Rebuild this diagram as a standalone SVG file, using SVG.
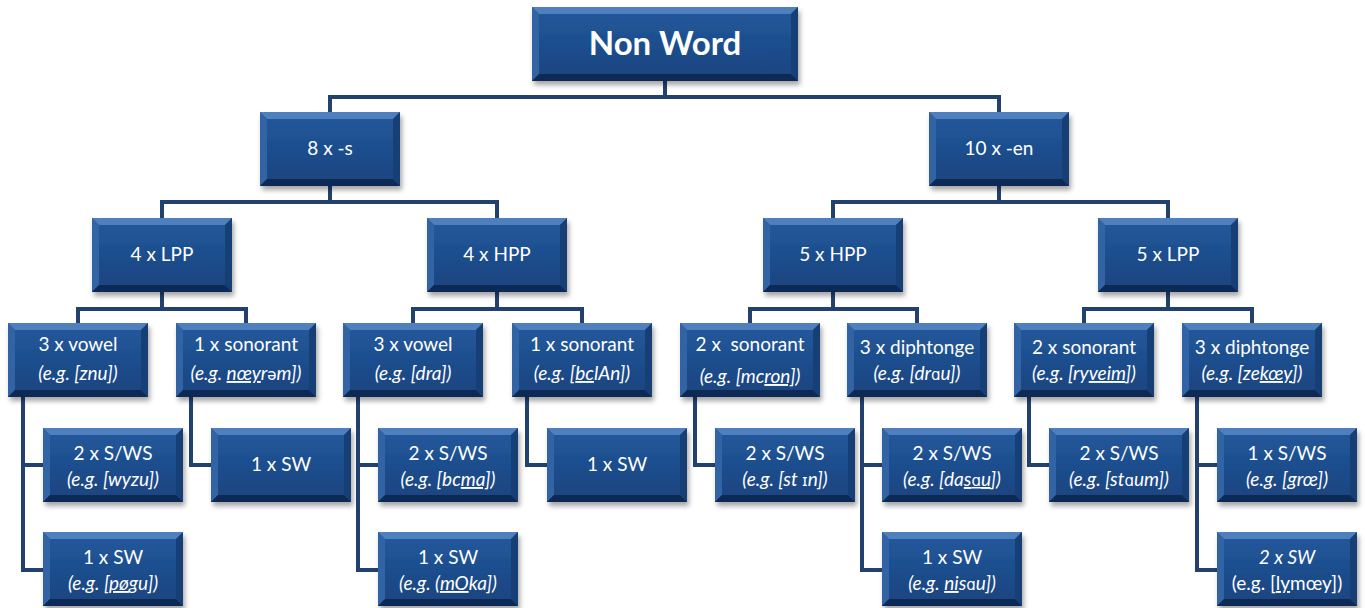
<svg xmlns="http://www.w3.org/2000/svg" xmlns:xlink="http://www.w3.org/1999/xlink" width="1365" height="608" viewBox="0 0 1365 608">
<style>
.t{font-family:Lato,"Liberation Sans",sans-serif;font-size:19px;fill:#fff;text-anchor:middle}
.i{font-style:italic}
.r{font-size:33px;font-weight:bold}
.u{text-decoration:underline}
.ip{font-family:"DejaVu Sans",sans-serif;font-style:normal;font-size:15px}
.c{fill:none;stroke:#22416f;stroke-width:4;stroke-linejoin:miter}
</style>
<defs>
<filter id="sh" x="-10%" y="-10%" width="125%" height="135%"><feDropShadow dx="2" dy="4" stdDeviation="2.5" flood-color="#000" flood-opacity="0.35"/></filter>
<linearGradient id="gf" x1="0" y1="0" x2="0" y2="1"><stop offset="0" stop-color="#285da0"/><stop offset="1" stop-color="#19447c"/></linearGradient>
<linearGradient id="gi" x1="0" y1="0" x2="0" y2="1"><stop offset="0" stop-color="#22579a"/><stop offset="1" stop-color="#1a4581"/></linearGradient>
<g id="bx">
<rect width="140" height="74" fill="url(#gf)"/>
<path d="M0 0H140L133 7H7Z" fill="#5080bd"/>
<path d="M0 0L7 7V67L0 74Z" fill="#3063a4"/>
<path d="M140 0L133 7V67L140 74Z" fill="#173f74"/>
<path d="M0 74L7 67H133L140 74Z" fill="#0f2c57"/>
<rect x="7" y="7" width="126" height="60" fill="url(#gi)"/>
</g>
</defs>
<rect width="1365" height="608" fill="#fff"/>
<g id="connectors" class="c">
<path d="M665 81V97M330 112V97H999V112"/>
<path d="M330 186V202M162 218V202H497V218"/>
<path d="M999 186V202M833 218V202H1168V218"/>
<path d="M162 292V309M78 323V309H246V323"/>
<path d="M497 292V309M413 323V309H582V323"/>
<path d="M833 292V309M750 323V309H917V323"/>
<path d="M1168 292V309M1084 323V309H1252V323"/>
<path d="M23 397V570H43M23 465H43"/>
<path d="M191 397V465H211"/>
<path d="M358 397V570H378M358 465H378"/>
<path d="M527 397V465H547"/>
<path d="M695 397V465H715"/>
<path d="M862 397V570H882M862 465H882"/>
<path d="M1029 397V465H1049"/>
<path d="M1197 397V570H1217M1197 465H1217"/>
</g>
<g id="root" transform="translate(532,7)">
<g filter="url(#sh)">
<rect width="266" height="74" fill="url(#gf)"/>
<path d="M0 0H266L259 7H7Z" fill="#5080bd"/>
<path d="M0 0L7 7V67L0 74Z" fill="#3063a4"/>
<path d="M266 0L259 7V67L266 74Z" fill="#173f74"/>
<path d="M0 74L7 67H259L266 74Z" fill="#0f2c57"/>
<rect x="7" y="7" width="252" height="60" fill="url(#gi)"/>
</g>
<text class="t r" x="133" y="48">Non Word</text>
</g>
<g id="n8s" transform="translate(260,112)"><use href="#bx" filter="url(#sh)"/><text class="t" x="70" y="43">8 x -s</text></g>
<g id="n10en" transform="translate(929,112)"><use href="#bx" filter="url(#sh)"/><text class="t" x="70" y="43">10 x -en</text></g>
<g id="n4lpp" transform="translate(92,218)"><use href="#bx" filter="url(#sh)"/><text class="t" x="70" y="43">4 x LPP</text></g>
<g id="n4hpp" transform="translate(427,218)"><use href="#bx" filter="url(#sh)"/><text class="t" x="70" y="43">4 x HPP</text></g>
<g id="n5hpp" transform="translate(763,218)"><use href="#bx" filter="url(#sh)"/><text class="t" x="70" y="43">5 x HPP</text></g>
<g id="n5lpp" transform="translate(1098,218)"><use href="#bx" filter="url(#sh)"/><text class="t" x="70" y="43">5 x LPP</text></g>

<g id="a1" transform="translate(8,323)"><use href="#bx" filter="url(#sh)"/><text class="t" x="70" y="28">3 x vowel</text><text class="t i" x="70" y="57">(e.g. [znu])</text></g>
<g id="a2" transform="translate(176,323)"><use href="#bx" filter="url(#sh)"/><text class="t" x="70" y="28">1 x sonorant</text><text class="t i" x="70" y="57">(e.g. <tspan class="u">nœy</tspan>r<tspan class="ip">ə</tspan>m])</text></g>
<g id="a3" transform="translate(343,323)"><use href="#bx" filter="url(#sh)"/><text class="t" x="70" y="28">3 x vowel</text><text class="t i" x="70" y="57">(e.g. [dra])</text></g>
<g id="a4" transform="translate(512,323)"><use href="#bx" filter="url(#sh)"/><text class="t" x="70" y="28">1 x sonorant</text><text class="t i" x="70" y="57">(e.g. [<tspan class="u">bc</tspan>lAn])</text></g>
<g id="a5" transform="translate(680,323)"><use href="#bx" filter="url(#sh)"/><text class="t" x="70" y="28" xml:space="preserve">2 x  sonorant</text><text class="t i" x="70" y="60">(e.g. [mc<tspan class="u">ron]</tspan>)</text></g>
<g id="a6" transform="translate(847,323)"><use href="#bx" filter="url(#sh)"/><text class="t" x="70" y="31">3 x diphtonge</text><text class="t i" x="70" y="57">(e.g. [dr<tspan class="ip">ɑ</tspan>u])</text></g>
<g id="a7" transform="translate(1014,323)"><use href="#bx" filter="url(#sh)"/><text class="t" x="70" y="31">2 x sonorant</text><text class="t i" x="70" y="57">(e.g. [ry<tspan class="u">veim</tspan>])</text></g>
<g id="a8" transform="translate(1182,323)"><use href="#bx" filter="url(#sh)"/><text class="t" x="70" y="31">3 x diphtonge</text><text class="t i" x="70" y="57">(e.g. [ze<tspan class="u">kœy</tspan>])</text></g>

<g id="b1" transform="translate(43,428)"><use href="#bx" filter="url(#sh)"/><text class="t" x="70" y="32">2 x S/WS</text><text class="t i" x="70" y="58">(e.g. [wyzu])</text></g>
<g id="b2" transform="translate(43,532)"><use href="#bx" filter="url(#sh)"/><text class="t" x="70" y="32">1 x SW</text><text class="t i" x="70" y="58">(e.g. [<tspan class="u">pø</tspan>gu])</text></g>
<g id="b3" transform="translate(211,428)"><use href="#bx" filter="url(#sh)"/><text class="t" x="70" y="43">1 x SW</text></g>
<g id="b4" transform="translate(378,428)"><use href="#bx" filter="url(#sh)"/><text class="t" x="70" y="32">2 x S/WS</text><text class="t i" x="70" y="58">(e.g. [bc<tspan class="u">ma]</tspan>)</text></g>
<g id="b5" transform="translate(378,532)"><use href="#bx" filter="url(#sh)"/><text class="t" x="70" y="32">1 x SW</text><text class="t i" x="70" y="58">(e.g. (<tspan class="u">mO</tspan>ka])</text></g>
<g id="b6" transform="translate(547,428)"><use href="#bx" filter="url(#sh)"/><text class="t" x="70" y="43">1 x SW</text></g>
<g id="b7" transform="translate(715,428)"><use href="#bx" filter="url(#sh)"/><text class="t" x="70" y="32">2 x S/WS</text><text class="t i" x="70" y="58">(e.g. [st <tspan class="ip">ɪ</tspan>n])</text></g>
<g id="b8" transform="translate(882,428)"><use href="#bx" filter="url(#sh)"/><text class="t" x="70" y="32">2 x S/WS</text><text class="t i" x="70" y="58">(e.g. [da<tspan class="u">s<tspan class="ip">ɑ</tspan>u</tspan>])</text></g>
<g id="b9" transform="translate(882,532)"><use href="#bx" filter="url(#sh)"/><text class="t" x="70" y="32">1 x SW</text><text class="t i" x="70" y="58">(e.g. <tspan class="u">ni</tspan>s<tspan class="ip">ɑ</tspan>u])</text></g>
<g id="b10" transform="translate(1049,428)"><use href="#bx" filter="url(#sh)"/><text class="t" x="70" y="32">2 x S/WS</text><text class="t i" x="70" y="58">(e.g. [st<tspan class="ip">ɑ</tspan>um])</text></g>
<g id="b11" transform="translate(1217,428)"><use href="#bx" filter="url(#sh)"/><text class="t" x="70" y="32">1 x S/WS</text><text class="t i" x="70" y="58">(e.g. [grœ])</text></g>
<g id="b12" transform="translate(1217,532)"><use href="#bx" filter="url(#sh)"/><text class="t i" x="70" y="32">2 x SW</text><text class="t" x="70" y="58">(e.g. [<tspan class="u">ly</tspan>mœy])</text></g>
</svg>
